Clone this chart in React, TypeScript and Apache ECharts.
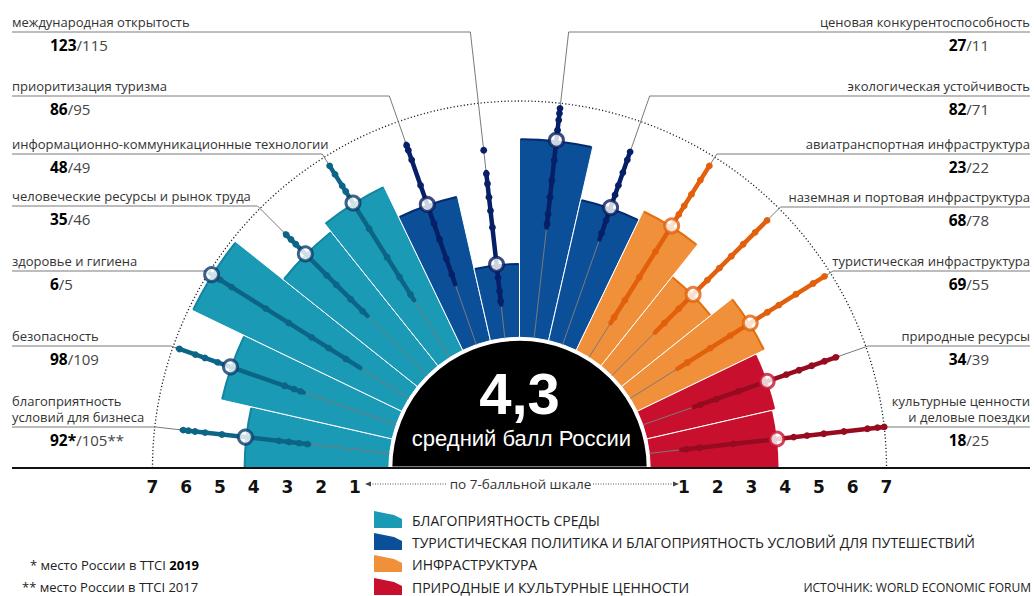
import React, { useEffect, useRef } from "react";
import * as echarts from "echarts";

// ---------- DATA ----------
const categories = [
  "благоприятность\nусловий для бизнеса",
  "безопасность",
  "здоровье и гигиена",
  "человеческие ресурсы и рынок труда",
  "информационно-коммуникационные технологии",
  "приоритизация туризма",
  "международная открытость",
  "ценовая конкурентоспособность",
  "экологическая устойчивость",
  "авиатранспортная инфраструктура",
  "наземная и портовая инфраструктура",
  "туристическая инфраструктура",
  "природные ресурсы",
  "культурные ценности\nи деловые поездки",
];
const groupOf = [0, 0, 0, 0, 0, 1, 1, 1, 1, 2, 2, 2, 3, 3];
const russiaScore = [4.3, 5.2, 6.9, 5.1, 5.4, 4.4, 2.2, 5.9, 4.3, 4.6, 3.4, 4.2, 3.9, 3.8];
const rangeLow = [2.4, 2.9, 1.7, 2.5, 2.0, 1.9, 1.0, 3.3, 3.3, 1.2, 1.8, 1.65, 1.6, 0.95];
const rangeHigh = [6.2, 6.85, 6.95, 5.95, 6.7, 6.3, 4.95, 6.85, 6.05, 6.7, 6.5, 6.8, 6.1, 7.0];
const countryDots = [
  [6.15, 6.0, 5.8, 5.5, 5.0, 3.3, 3.0, 2.7, 2.45],
  [6.8, 6.3, 6.0, 5.6, 3.5, 3.2, 3.0],
  [6.6, 6.2, 5.0, 4.2, 3.4, 2.8, 2.2],
  [5.9, 5.7, 5.5, 4.2, 3.8, 3.2, 2.7],
  [6.7, 6.4, 6.0, 5.8, 4.5, 3.5, 2.8, 2.2],
  [6.25, 6.1, 5.8, 5.0, 3.8, 3.3, 2.7, 2.2],
  [5.6, 4.9, 4.6, 4.2, 3.8, 3.3, 1.8, 1.4, 1.1],
  [6.85, 6.7, 6.5, 6.2, 5.3, 4.7, 4.2, 3.7, 3.4],
  [6.05, 5.8, 5.4, 5.0, 4.7, 3.9, 3.5],
  [6.7, 6.2, 5.7, 5.3, 5.0, 3.7, 2.8, 2.0, 1.4],
  [6.5, 6.0, 5.5, 5.0, 4.5, 4.0, 2.8, 2.2],
  [6.8, 6.4, 5.8, 5.2, 4.8, 3.5, 2.8, 2.0],
  [6.05, 5.7, 5.3, 4.9, 4.5, 3.0, 2.3, 1.8],
  [7.0, 6.8, 6.5, 5.8, 5.2, 4.7, 4.3, 2.5, 1.5, 1.1],
];
const rank2019 = ["92*", "98", "6", "35", "48", "86", "123", "27", "82", "23", "68", "69", "34", "18"];
const rank2017 = ["105**", "109", "5", "46", "49", "95", "115", "11", "71", "22", "78", "55", "39", "25"];
const groupNames = [
  "БЛАГОПРИЯТНОСТЬ СРЕДЫ",
  "ТУРИСТИЧЕСКАЯ ПОЛИТИКА И БЛАГОПРИЯТНОСТЬ УСЛОВИЙ ДЛЯ ПУТЕШЕСТВИЙ",
  "ИНФРАСТРУКТУРА",
  "ПРИРОДНЫЕ И КУЛЬТУРНЫЕ ЦЕННОСТИ",
];
const averageScore = "4,3";
const averageLabel = "средний балл России";
const scaleNote = "по 7-балльной шкале";
const scaleMax = 7;

// ---------- STYLE / LAYOUT ----------
const barColors = ["#1b9ab5", "#0b4f99", "#f0903a", "#c8102e"];
const barEdgeColors = ["#14859f", "#062a72", "#e2700f", "#c8102e"];
const lineColors = ["#0c6587", "#061f66", "#e2600c", "#960b20"];
const markerBorders = ["#0b3c6c", "#061d5e", "#e2600c", "#c8102e"];
const CX = 519.5;
const CY = 468;
const R0 = 130.7;
const R7 = 367;
const labelLineY = [427, 346, 271, 206, 154, 96, 32, 32, 96, 154, 207, 271, 346, 427];
const FONT = "'Open Sans', 'Noto Sans', sans-serif";

function buildOption() {
  const graphics: any[] = [];

  // outer dotted arc (value 7)
  graphics.push({
    type: "arc",
    silent: true,
    z: 1,
    shape: { cx: CX, cy: CY, r: R7, startAngle: Math.PI, endAngle: Math.PI * 2 },
    style: { stroke: "#222", lineWidth: 1.3, lineDash: [1.2, 2.2], fill: null },
  });

  // black centre
  graphics.push({
    type: "sector",
    silent: true,
    z: 20,
    shape: { cx: CX, cy: CY, r0: 0, r: R0 - 2, startAngle: Math.PI, endAngle: Math.PI * 2 },
    style: { fill: "#000", stroke: "#fff", lineWidth: 3 },
  });
  graphics.push({
    type: "text",
    silent: true,
    z: 21,
    x: CX,
    y: 393,
    style: {
      text: averageScore,
      fill: "#fff",
      fontSize: 58,
      fontWeight: "bold",
      fontFamily: "'Liberation Sans', Arial, sans-serif",
      align: "center",
      verticalAlign: "middle",
    },
  });
  graphics.push({
    type: "text",
    silent: true,
    z: 21,
    x: CX + 2,
    y: 438,
    style: {
      text: averageLabel,
      fill: "#fff",
      fontSize: 22,
      fontFamily: "'Liberation Sans', Arial, sans-serif",
      align: "center",
      verticalAlign: "middle",
    },
  });

  // baseline
  graphics.push({
    type: "line",
    silent: true,
    z: 22,
    shape: { x1: 12, y1: CY, x2: 1030, y2: CY },
    style: { stroke: "#111", lineWidth: 2 },
  });

  // scale note with dotted arrows
  graphics.push({
    type: "text",
    silent: true,
    z: 22,
    x: CX + 1,
    y: 484,
    style: { text: scaleNote, fill: "#333", fontSize: 13.5, fontFamily: FONT, align: "center", verticalAlign: "middle" },
  });
  graphics.push({
    type: "line",
    silent: true,
    shape: { x1: 370, y1: 484, x2: 447, y2: 484 },
    style: { stroke: "#555", lineWidth: 1, lineDash: [1, 1.5] },
  });
  graphics.push({
    type: "line",
    silent: true,
    shape: { x1: 593, y1: 484, x2: 674, y2: 484 },
    style: { stroke: "#555", lineWidth: 1, lineDash: [1, 1.5] },
  });
  graphics.push({
    type: "polygon",
    silent: true,
    shape: { points: [[365, 484], [371, 481.5], [371, 486.5]] },
    style: { fill: "#444" },
  });
  graphics.push({
    type: "polygon",
    silent: true,
    shape: { points: [[679, 484], [673, 481.5], [673, 486.5]] },
    style: { fill: "#444" },
  });

  // side labels
  categories.forEach((name, i) => {
    const left = i < 7;
    const y = labelLineY[i];
    graphics.push({
      type: "text",
      silent: true,
      x: left ? 12 : 1030,
      y: y - 2,
      style: {
        text: name,
        fill: "#333",
        fontSize: 13,
        lineHeight: 16,
        fontFamily: FONT,
        align: left ? "left" : "right",
        verticalAlign: "bottom",
      },
    });
    graphics.push({
      type: "text",
      silent: true,
      x: left ? 50 : 989,
      y: y + 13,
      style: {
        text: `{b|${rank2019[i]}}{n|/${rank2017[i]}}`,
        align: left ? "left" : "right",
        verticalAlign: "middle",
        rich: {
          b: { fontSize: 15.5, fontWeight: "bold", fill: "#000", fontFamily: FONT },
          n: { fontSize: 15, fill: "#444", fontFamily: FONT },
        },
      },
    });
  });

  // legend
  const legendY = [520, 542, 564, 587];
  groupNames.forEach((g, k) => {
    const y = legendY[k];
    graphics.push({
      type: "polygon",
      silent: true,
      shape: { points: [[374, y - 9], [394, y - 5], [402, y - 1], [402, y + 8], [374, y + 8]] },
      style: { fill: barColors[k] },
    });
    graphics.push({
      type: "text",
      silent: true,
      x: 412,
      y: y,
      style: { text: g, fill: "#222", fontSize: 14, fontFamily: FONT, align: "left", verticalAlign: "middle" },
    });
  });

  // footnotes & source
  graphics.push({
    type: "text",
    silent: true,
    x: 30,
    y: 565,
    style: {
      text: "{n|* место России в TTCI }{b|2019}",
      verticalAlign: "middle",
      rich: {
        n: { fontSize: 13, fill: "#222", fontFamily: FONT },
        b: { fontSize: 13, fontWeight: "bold", fill: "#000", fontFamily: FONT },
      },
    },
  });
  graphics.push({
    type: "text",
    silent: true,
    x: 22,
    y: 587,
    style: { text: "** место России в TTCI 2017", fontSize: 13, fill: "#222", fontFamily: FONT, verticalAlign: "middle" },
  });
  graphics.push({
    type: "text",
    silent: true,
    x: 1031,
    y: 587,
    style: {
      text: "ИСТОЧНИК: WORLD ECONOMIC FORUM",
      fontSize: 12,
      fill: "#222",
      fontFamily: FONT,
      align: "right",
      verticalAlign: "middle",
    },
  });

  const axisLabelStyle = {
    show: true,
    margin: 10,
    fontSize: 17,
    fontWeight: "bold" as const,
    color: "#111",
    fontFamily: "'DejaVu Sans', Verdana, sans-serif",
    formatter: (v: number) => (v === 0 ? "" : String(v)),
  };

  return {
    animation: false,
    polar: { center: [CX, CY], radius: [R0, R7] },
    angleAxis: {
      type: "category",
      data: categories,
      startAngle: 180,
      endAngle: 0,
      clockwise: true,
      axisLine: { show: false },
      axisTick: { show: false },
      axisLabel: { show: false },
      splitLine: { show: false },
    },
    radiusAxis: {
      type: "value",
      min: 0,
      max: scaleMax,
      axisLine: { show: false },
      axisTick: { show: false },
      axisLabel: { show: false },
      splitLine: { show: false },
    },
    grid: [
      { left: CX - R7, top: CY - 1, width: R7 - R0, height: 1 },
      { left: CX + R0, top: CY - 1, width: R7 - R0, height: 1 },
    ],
    xAxis: [
      {
        gridIndex: 0,
        type: "value",
        min: 0,
        max: scaleMax,
        interval: 1,
        inverse: true,
        axisLine: { show: false },
        axisTick: { show: false },
        splitLine: { show: false },
        axisLabel: axisLabelStyle,
      },
      {
        gridIndex: 1,
        type: "value",
        min: 0,
        max: scaleMax,
        interval: 1,
        axisLine: { show: false },
        axisTick: { show: false },
        splitLine: { show: false },
        axisLabel: axisLabelStyle,
      },
    ],
    yAxis: [
      { gridIndex: 0, show: false, type: "value" },
      { gridIndex: 1, show: false, type: "value" },
    ],
    series: [
      {
        type: "bar",
        coordinateSystem: "polar",
        barCategoryGap: "0%",
        silent: true,
        z: 2,
        data: russiaScore.map((v, i) => ({
          value: v,
          itemStyle: { color: barColors[groupOf[i]], borderColor: "#fff", borderWidth: 1 },
        })),
      },
      {
        type: "custom",
        coordinateSystem: "polar",
        silent: true,
        z: 3,
        data: categories.map((_, i) => [rangeHigh[i], i]),
        renderItem: (params: any, api: any) => {
          const i = params.dataIndex;
          const g = groupOf[i];
          const cs = params.coordSys;
          const p0 = api.coord([0, i]);
          const p7 = api.coord([scaleMax, i]);
          const pLo = api.coord([rangeLow[i], i]);
          const pHi = api.coord([rangeHigh[i], i]);
          const pBar = api.coord([russiaScore[i], i]);
          const theta = Math.atan2(pBar[1] - cs.cy, pBar[0] - cs.cx);
          const rBar = Math.hypot(pBar[0] - cs.cx, pBar[1] - cs.cy);
          const half = Math.PI / categories.length / 2 - 0.004;
          const ly = labelLineY[i];
          const t = (ly - p0[1]) / (p7[1] - p0[1]);
          const rx = p0[0] + t * (p7[0] - p0[0]);
          const ex = i < 7 ? 12 : 1030;
          const children: any[] = [
            {
              type: "arc",
              shape: { cx: cs.cx, cy: cs.cy, r: rBar - 1, startAngle: theta - half, endAngle: theta + half },
              style: { stroke: barEdgeColors[g], lineWidth: 2, fill: null },
            },
            {
              type: "polyline",
              shape: { points: [p0, [rx, ly], [ex, ly]] },
              style: { stroke: "#7a7a7a", lineWidth: 1, fill: null },
            },
            {
              type: "line",
              shape: { x1: pLo[0], y1: pLo[1], x2: pHi[0], y2: pHi[1] },
              style: { stroke: lineColors[g], lineWidth: 4.5, lineCap: "round" },
            },
          ];
          countryDots[i].forEach((d) => {
            const p = api.coord([d, i]);
            children.push({
              type: "circle",
              shape: { cx: p[0], cy: p[1], r: 3.4 },
              style: { fill: lineColors[g] },
            });
          });
          return { type: "group", children };
        },
      },
      {
        type: "scatter",
        coordinateSystem: "polar",
        silent: true,
        z: 4,
        symbol: "circle",
        symbolSize: 14,
        data: russiaScore.map((v, i) => ({
          value: [v, i],
          itemStyle: { color: "#fff", borderColor: markerBorders[groupOf[i]], borderWidth: 3 },
        })),
      },
    ],
    graphic: graphics,
  };
}

export default function App() {
  const ref = useRef<HTMLDivElement>(null);
  useEffect(() => {
    if (!ref.current) return;
    const chart = echarts.init(ref.current, null, { renderer: "svg" });
    chart.setOption(buildOption() as any);
    return () => chart.dispose();
  }, []);
  return (
    <div
      ref={ref}
      style={{ position: "absolute", left: 0, top: 0, width: 1034, height: 596, background: "#fff" }}
    />
  );
}
